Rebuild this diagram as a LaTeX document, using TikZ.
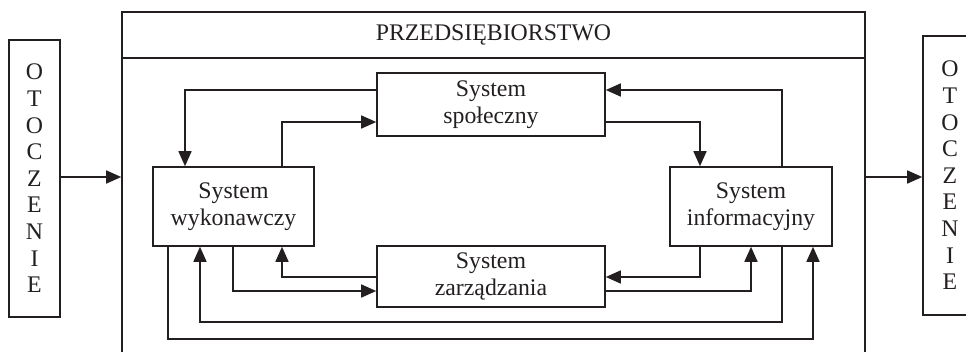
\documentclass[tikz,border=0pt]{standalone}
\usepackage{fontspec}
\setmainfont{Liberation Serif}
\usetikzlibrary{arrows.meta}
\definecolor{ink}{HTML}{231F20}
\begin{document}
\begin{tikzpicture}[x=1pt,y=-1pt,
  box/.style={draw=ink, line width=1.6pt, rectangle, inner sep=0pt,
    align=center, text=ink, font=\fontsize{23.8}{27}\selectfont},
  column/.style={box, font=\fontsize{23.8}{26.6}\selectfont},
  wire/.style={draw=ink, line width=1.6pt},
  arr/.style={wire, -{Triangle[length=15pt,width=13pt]}}]
\useasboundingbox (0,0) rectangle (966,351);

% enterprise frame (runs past the lower edge) with its title strip
\node[box, minimum width=743pt, minimum height=388pt] (firm) at (493.5,206) {};
\draw[wire] (firm.west |- 0,58) -- (firm.east |- 0,58);
\node[text=ink, font=\fontsize{23.8}{27}\selectfont] (title) at (493.5,35) {PRZEDSIĘBIORSTWO};

% environment on both sides
\node[column, minimum width=51pt, minimum height=277pt] (otl) at (34.5,178.5)
  {O\\T\\O\\C\\Z\\E\\N\\I\\E};
\node[column, minimum width=54pt, minimum height=279pt] (otr) at (950,175.5)
  {O\\T\\O\\C\\Z\\E\\N\\I\\E};

% subsystems
\node[box, minimum width=161pt, minimum height=79pt] (wyk) at (233.5,206.5) {System\\wykonawczy};
\node[box, minimum width=228pt, minimum height=63pt] (spol) at (491,104.5) {System\\społeczny};
\node[box, minimum width=162pt, minimum height=79pt] (inf) at (751,206.5) {System\\informacyjny};
\node[box, minimum width=228pt, minimum height=61pt] (zarz) at (491,276.5) {System\\zarządzania};

% flows between the subsystems
\draw[arr] (spol.west |- 0,90) -| (185,0 |- wyk.north);
\draw[arr] (282,0 |- wyk.north) |- (spol.west |- 0,122);
\draw[arr] (spol.east |- 0,122) -| (700,0 |- inf.north);
\draw[arr] (782,0 |- inf.north) |- (spol.east |- 0,90);
\draw[arr] (233,0 |- wyk.south) |- (zarz.west |- 0,291);
\draw[arr] (zarz.west |- 0,277) -| (282,0 |- wyk.south);
\draw[arr] (700,0 |- inf.south) |- (zarz.east |- 0,277);
\draw[arr] (zarz.east |- 0,291) -| (751,0 |- inf.south);
\draw[arr] (782,0 |- inf.south) -- (782,322) -| (200,0 |- wyk.south);
\draw[arr] (168,0 |- wyk.south) -- (168,339) -| (813,0 |- inf.south);

% exchange with the environment
\draw[arr] (otl.east |- 0,177) -- (firm.west |- 0,177);
\draw[arr] (firm.east |- 0,177) -- (otr.west |- 0,177);
\end{tikzpicture}
\end{document}
